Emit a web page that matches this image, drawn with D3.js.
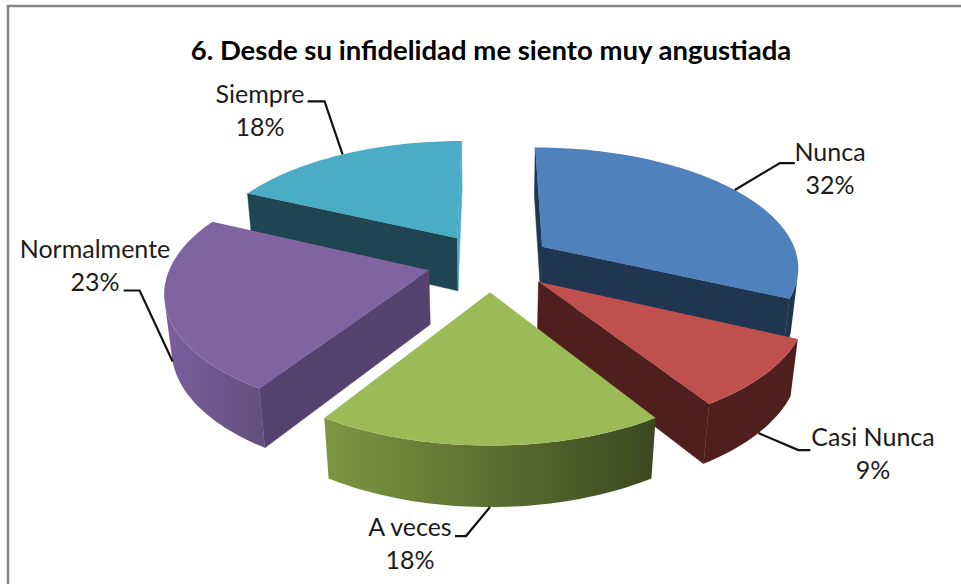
<!DOCTYPE html>
<html>
<head>
<meta charset="utf-8">
<script src="https://cdn.jsdelivr.net/npm/d3@7"></script>
<style>
  html, body { margin: 0; background: #fff; }
  svg { display: block; }
  text { font-family: Lato, "Open Sans", sans-serif; fill: #1c1c1c; }
</style>
</head>
<body>
<div id="chart"></div>
<script>
const title = "6. Desde su infidelidad me siento muy angustiada";
const categories = ["Nunca", "Casi Nunca", "A veces", "Normalmente", "Siempre"];
const values = [32, 9, 18, 23, 18];

const topColors = ["#4f81bd", "#c0504d", "#9bbb59", "#8064a2", "#4bacc6"];
const cutStartColors = ["#1f3550", "#4f1f1d", "#3e4a22", "#56426f", "#1f4552"];
const cutEndColors = ["#1f3550", "#4f1f1d", "#3e4a22", "#56426f", "#4bacc6"];
const rimStartColors = ["#1f3550", "#4f1f1d", "#3c4820", "#64507e", "#1f4552"];
const rimEndColors = ["#1f3550", "#4f1f1d", "#7c9742", "#7a5f9c", "#1f4552"];

// label placement: text centre and baseline of first line, then leader elbow
const labelX = [830, 873, 410, 95, 260];
const labelY = [161, 446, 536, 258, 103];
const elbowDx = [45, 40, -24, -33, -18];
const elbowDy = [-27, 17, 29, -71, -53];
const tailDx = [15, 12, -11, -16, -17];

var width = 961;
var height = 584;

var svg = d3.select("#chart").append("svg")
  .attr("width", width)
  .attr("height", height);

var defs = svg.append("defs");

// frame, only top and left edges are in view
svg.append("path")
  .attr("d", d3.line()([[8, height], [8, 6], [width, 6]]))
  .attr("fill", "none")
  .attr("stroke", "#868686")
  .attr("stroke-width", 2.5);

svg.append("text")
  .attr("x", 491).attr("y", 60)
  .attr("text-anchor", "middle")
  .attr("font-size", 27.5)
  .attr("font-weight", 700)
  .style("fill", "#000")
  .text(title);

// perspective camera for the tilted pie
var cx = 490, cy = 262;
var scaleX = 257, scaleY = 119, depth = 55;
var persp = 0.155, perspZ = 0.022;
var explode = 0.245;

function project(X, Y, Z) {
  var w = 1 + persp * Y + perspZ * Z;
  return [cx + scaleX * X / w, cy - (scaleY * Y - depth * Z) / w];
}

var pie = d3.pie().sort(null).startAngle(0).endAngle(2 * Math.PI);
var arcs = pie(values).map(function(d, i) {
  var mid = (d.startAngle + d.endAngle) / 2;
  return {
    i: i,
    a0: d.startAngle,
    a1: d.endAngle,
    mid: mid,
    ox: explode * Math.sin(mid),
    oy: explode * Math.cos(mid)
  };
});

function rimPoint(s, a, Z) {
  return project(s.ox + Math.sin(a), s.oy + Math.cos(a), Z);
}

// d3.polygonArea comes out positive for faces turned towards the camera here
function facing(pts) { return d3.polygonArea(pts) > 0; }

var line = d3.line().curve(d3.curveLinearClosed);

// far slices first so nearer ones paint over them
var order = arcs.slice().sort(function(a, b) { return b.oy - a.oy; });

var slices = svg.append("g").selectAll("g")
  .data(order)
  .enter().append("g");

slices.each(function(s) {
  var g = d3.select(this);
  var apexTop = project(s.ox, s.oy, 0);
  var apexBot = project(s.ox, s.oy, 1);

  // cut walls, only when they face the camera
  var startWall = [apexTop, rimPoint(s, s.a0, 0), rimPoint(s, s.a0, 1), apexBot];
  var endWall = [rimPoint(s, s.a1, 0), apexTop, apexBot, rimPoint(s, s.a1, 1)];
  [[startWall, cutStartColors[s.i]], [endWall, cutEndColors[s.i]]].forEach(function(w) {
    if (facing(w[0])) {
      g.append("path").attr("d", line(w[0])).attr("fill", w[1]).attr("stroke", w[1]).attr("stroke-width", 0.5);
    }
  });

  // outer rim: keep the part of the arc that faces the camera
  var n = Math.ceil((s.a1 - s.a0) * 40);
  var step = (s.a1 - s.a0) / n;
  var upper = [], lower = [];
  d3.range(n).forEach(function(k) {
    var a = s.a0 + step * k, b = a + step;
    if (facing([rimPoint(s, a, 0), rimPoint(s, b, 0), rimPoint(s, b, 1), rimPoint(s, a, 1)])) {
      if (!upper.length) { upper.push(rimPoint(s, a, 0)); lower.push(rimPoint(s, a, 1)); }
      upper.push(rimPoint(s, b, 0));
      lower.push(rimPoint(s, b, 1));
    }
  });
  if (upper.length) {
    var gradId = "rim" + s.i;
    var grad = defs.append("linearGradient")
      .attr("id", gradId)
      .attr("gradientUnits", "userSpaceOnUse")
      .attr("x1", upper[0][0]).attr("y1", 0)
      .attr("x2", upper[upper.length - 1][0]).attr("y2", 0);
    grad.append("stop").attr("offset", 0).attr("stop-color", rimStartColors[s.i]);
    grad.append("stop").attr("offset", 1).attr("stop-color", rimEndColors[s.i]);
    g.append("path")
      .attr("d", line(upper.concat(lower.reverse())))
      .attr("fill", "url(#" + gradId + ")");
  }

  // top face
  var pts = [apexTop];
  d3.range(n + 1).forEach(function(k) {
    pts.push(rimPoint(s, s.a0 + step * k, 0));
  });
  g.append("path").attr("d", line(pts)).attr("fill", topColors[s.i]);
});

// leaders and labels
var total = d3.sum(values);
var fmt = d3.format(".0%");
arcs.forEach(function(s) {
  var i = s.i;
  var onFront = Math.cos(s.mid) < -0.1 && i !== 0;
  var p = rimPoint(s, s.mid, onFront ? 1 : 0);
  var e = [p[0] + elbowDx[i], p[1] + elbowDy[i]];
  var t = [e[0] + tailDx[i], e[1]];
  svg.append("path")
    .attr("d", d3.line()([p, e, t]))
    .attr("fill", "none")
    .attr("stroke", "#111")
    .attr("stroke-width", 2.2);

  var label = svg.append("text")
    .attr("text-anchor", "middle")
    .attr("font-size", 25);
  label.append("tspan").attr("x", labelX[i]).attr("y", labelY[i]).text(categories[i]);
  label.append("tspan").attr("x", labelX[i]).attr("y", labelY[i] + 33).text(fmt(values[i] / total));
});
</script>
</body>
</html>
